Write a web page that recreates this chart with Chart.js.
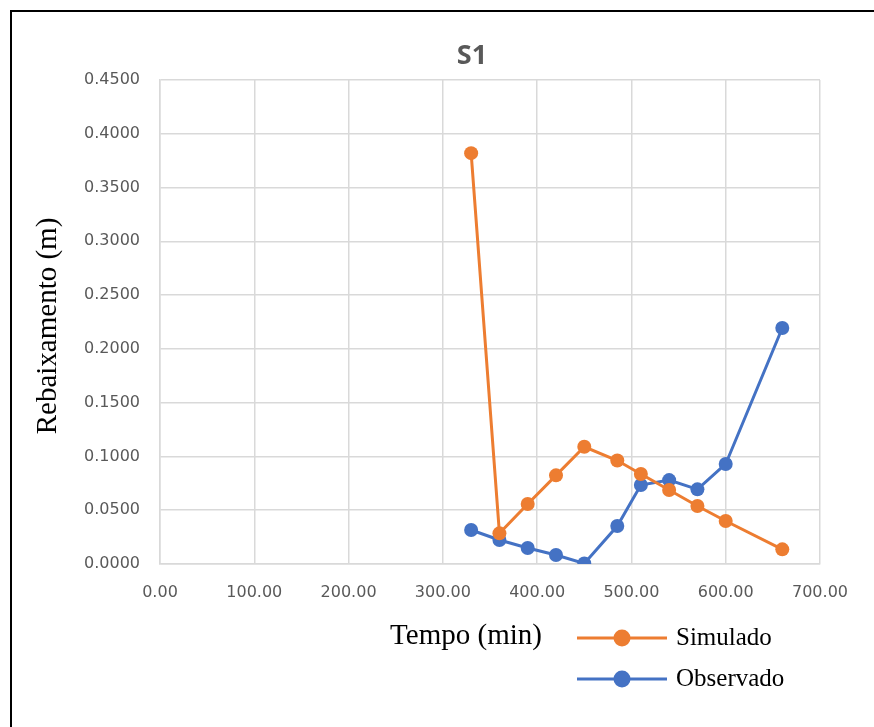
<!DOCTYPE html>
<html>
<head>
<meta charset="utf-8">
<script src="https://cdn.jsdelivr.net/npm/chart.js@4/dist/chart.umd.min.js"></script>
<style>
  html, body { margin: 0; padding: 0; background: #ffffff; }
  #wrap { position: relative; width: 874px; height: 727px; }
</style>
</head>
<body>
<div id="wrap"><canvas id="c" width="874" height="727"></canvas></div>
<script>
// Tempo (min) at each reading
const tempo = [330, 360, 390, 420, 450, 485, 510, 540, 570, 600, 660];
// Rebaixamento (m)
const simulado  = [0.3820, 0.0285, 0.0558, 0.0824, 0.1090, 0.0962, 0.0837, 0.0688, 0.0539, 0.0400, 0.0136];
const observado = [0.0316, 0.0223, 0.0149, 0.0084, 0.0005, 0.0353, 0.0734, 0.0780, 0.0694, 0.0930, 0.2194];
const seriesNames = ['Simulado', 'Observado'];
const chartTitle = 'S1';
const xTitle = 'Tempo (min)';
const yTitle = 'Rebaixamento (m)';

const ORANGE = '#ED7D31';
const BLUE = '#4472C4';
const GRID = '#d9d9d9';
const SERIF = '"Liberation Serif", "Times New Roman", serif';
const SANS = '"Open Sans", "Liberation Sans", sans-serif';
const TICKS = '"DejaVu Sans", "Open Sans", sans-serif';

const toPoints = ys => tempo.map((t, i) => ({ x: t, y: ys[i] }));

// Title, axis titles, legend and frame drawn on top of the chart
const decorations = {
  id: 'decorations',
  afterDraw(chart) {
    const ctx = chart.ctx;
    const area = chart.chartArea;
    ctx.save();

    // frame
    ctx.strokeStyle = '#000000';
    ctx.lineWidth = 2;
    ctx.beginPath();
    ctx.moveTo(11, 727);
    ctx.lineTo(11, 11);
    ctx.lineTo(874, 11);
    ctx.stroke();

    // chart title
    ctx.fillStyle = '#595959';
    ctx.font = 'bold 27px ' + SANS;
    ctx.textAlign = 'center';
    ctx.textBaseline = 'middle';
    ctx.fillText(chartTitle, 472, 56);

    // y axis title
    ctx.fillStyle = '#000000';
    ctx.font = '29px ' + SERIF;
    ctx.save();
    ctx.translate(48, (area.top + area.bottom) / 2 + 4);
    ctx.rotate(-Math.PI / 2);
    ctx.textAlign = 'center';
    ctx.textBaseline = 'middle';
    ctx.fillText(yTitle, 0, 0);
    ctx.restore();

    // x axis title
    ctx.font = '29px ' + SERIF;
    ctx.textAlign = 'center';
    ctx.textBaseline = 'middle';
    ctx.fillText(xTitle, 466, 636);

    // legend
    const rows = [638, 679];
    chart.data.datasets.forEach((ds, i) => {
      const y = rows[i];
      ctx.strokeStyle = ds.borderColor;
      ctx.lineWidth = ds.borderWidth;
      ctx.beginPath();
      ctx.moveTo(577, y);
      ctx.lineTo(667, y);
      ctx.stroke();
      ctx.fillStyle = ds.pointBackgroundColor;
      ctx.beginPath();
      ctx.arc(622, y, 8.5, 0, Math.PI * 2);
      ctx.fill();
      ctx.fillStyle = '#000000';
      ctx.font = '25px ' + SERIF;
      ctx.textAlign = 'left';
      ctx.textBaseline = 'middle';
      ctx.fillText(ds.label, 676, y);
    });

    ctx.restore();
  }
};

new Chart(document.getElementById('c'), {
  type: 'line',
  data: {
    datasets: [
      {
        label: seriesNames[0],
        data: toPoints(simulado),
        borderColor: ORANGE,
        backgroundColor: ORANGE,
        pointBackgroundColor: ORANGE,
        pointBorderColor: ORANGE,
        borderWidth: 3,
        pointRadius: 7,
        pointBorderWidth: 0,
        tension: 0
      },
      {
        label: seriesNames[1],
        data: toPoints(observado),
        borderColor: BLUE,
        backgroundColor: BLUE,
        pointBackgroundColor: BLUE,
        pointBorderColor: BLUE,
        borderWidth: 3,
        pointRadius: 7,
        pointBorderWidth: 0,
        tension: 0
      }
    ]
  },
  options: {
    responsive: false,
    animation: false,
    layout: { padding: { left: 0, right: 54, top: 80, bottom: 0 } },
    plugins: {
      legend: { display: false },
      title: { display: false },
      tooltip: { enabled: false }
    },
    scales: {
      x: {
        type: 'linear',
        min: 0,
        max: 700,
        afterFit(scale) { scale.height = 163; },
        ticks: {
          stepSize: 100,
          padding: 19,
          color: '#595959',
          font: { family: TICKS, size: 16 },
          callback: v => Number(v).toFixed(2),
          maxRotation: 0
        },
        grid: { color: GRID, lineWidth: 1.5, drawTicks: false },
        border: { color: GRID, width: 1.5 }
      },
      y: {
        type: 'linear',
        min: 0,
        max: 0.45,
        afterFit(scale) { scale.width = 160; },
        ticks: {
          stepSize: 0.05,
          padding: 20,
          color: '#595959',
          font: { family: TICKS, size: 16 },
          callback: v => Number(v).toFixed(4)
        },
        grid: { color: GRID, lineWidth: 1.5, drawTicks: false },
        border: { color: GRID, width: 1.5 }
      }
    }
  },
  plugins: [decorations]
});
</script>
</body>
</html>
